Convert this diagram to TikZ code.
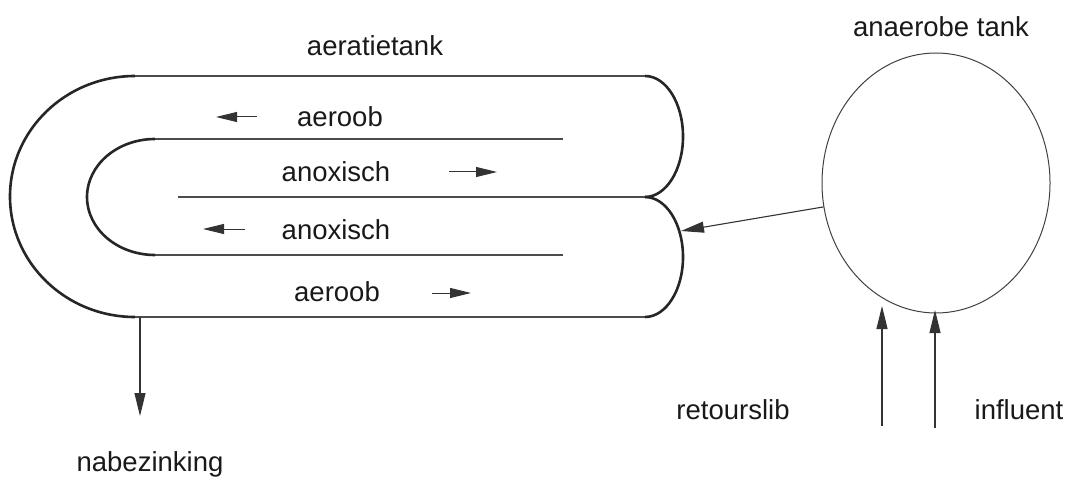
\documentclass[tikz,border=0pt]{standalone}
\usepackage{fontspec}
\setmainfont{Liberation Sans}
\usetikzlibrary{arrows.meta,shapes.geometric}
\begin{document}
\begin{tikzpicture}[x=1pt,y=-1pt,
  lbl/.style={font=\fontsize{27.5}{30}\selectfont, text=black!90, inner sep=0pt},
  thin line/.style={draw=black!70, line width=1.1pt},
  thick arc/.style={draw=black!85, line width=2.6pt},
  flow/.style={draw=black!80, line width=1.1pt, -{Triangle[length=23pt,width=11pt]}},
  small flow/.style={draw=black!80, line width=1pt, -{Triangle[length=21pt,width=10pt]}}]
\useasboundingbox (0,0) rectangle (1075,481);
% coordinates of the channel
\coordinate (t1) at (135,76);   \coordinate (t2) at (645,76);
\coordinate (a1) at (155,139);  \coordinate (a2) at (563,139);
\coordinate (m1) at (178,197);  \coordinate (m2) at (645,197);
\coordinate (b1) at (155,255);  \coordinate (b2) at (563,255);
\coordinate (c1) at (135,317);  \coordinate (c2) at (645,317);
% straight walls
\draw[thin line] (t1) -- (t2);
\draw[thin line] (a1) -- (a2);
\draw[thin line] (m1) -- (m2);
\draw[thin line] (b1) -- (b2);
\draw[thin line] (c1) -- (c2);
% left bends
\draw[thick arc] (t1) arc[start angle=-90, end angle=-270, x radius=125, y radius=120.5];
\draw[thick arc] (a1) arc[start angle=-90, end angle=-270, x radius=68, y radius=58];
% right bends
\draw[thick arc] (t2) arc[start angle=-90, end angle=90, x radius=38, y radius=60.5];
\draw[thick arc] (m2) arc[start angle=-90, end angle=90, x radius=38, y radius=60];
\coordinate (inlet) at (681,231);
% anaerobic tank
\node[draw=black!75, line width=1pt, ellipse, minimum width=228pt, minimum height=260pt, inner sep=0pt] (tank) at (936,183) {};
% labels
\node[lbl] (aer) at (375,46) {aeratietank};
\node[lbl] (ana) at (941,27) {anaerobe tank};
\node[lbl] (l1) at (340,117) {aeroob};
\node[lbl] (l2) at (336,172) {anoxisch};
\node[lbl] (l3) at (336,230) {anoxisch};
\node[lbl] (l4) at (337,292) {aeroob};
\node[lbl] (ret) at (733,410) {retourslib};
\node[lbl] (inf) at (1019,410) {influent};
\node[lbl] (nab) at (150,464) {nabezinking};
% flow direction arrows
\coordinate (f1s) at (257,117); \coordinate (f1e) at (216,117);
\coordinate (f2s) at (449,172); \coordinate (f2e) at (497,172);
\coordinate (f3s) at (245,229); \coordinate (f3e) at (203,229);
\coordinate (f4s) at (432,293); \coordinate (f4e) at (471,293);
\draw[small flow] (f1s) -- (f1e);
\draw[small flow] (f2s) -- (f2e);
\draw[small flow] (f3s) -- (f3e);
\draw[small flow] (f4s) -- (f4e);
% connectors
\draw[flow] (tank.192) -- (inlet);
\coordinate (r0) at (882,426); \coordinate (r1) at (882,306);
\coordinate (i0) at (935,428); \coordinate (i1) at (935,310);
\draw[flow] (r0) -- (r1);
\draw[flow] (i0) -- (i1);
\coordinate (n0) at (140,317); \coordinate (n1) at (140,416);
\draw[flow] (n0) -- (n1);
\end{tikzpicture}
\end{document}
